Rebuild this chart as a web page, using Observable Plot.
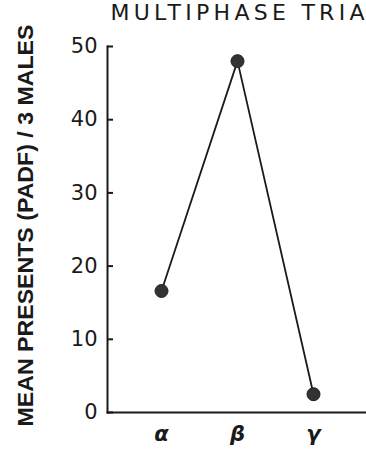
<!DOCTYPE html>
<html>
<head>
<meta charset="utf-8">
<script src="https://cdn.jsdelivr.net/npm/d3@7"></script>
<script src="https://cdn.jsdelivr.net/npm/@observablehq/plot@0.6"></script>
<style>
  html, body { margin: 0; padding: 0; background: #fff; overflow: hidden; }
  svg { display: block; }
</style>
</head>
<body>
<div id="chart"></div>
<script>
const phases = ["α", "β", "γ"];
const presents = [16.6, 48.0, 2.5];
const yTicks = [0, 10, 20, 30, 40, 50];
const titleText = "MULTIPHASE TRIA";
const yLabel = "MEAN PRESENTS (PADF) / 3 MALES";

const data = phases.map((p, i) => ({phase: p, value: presents[i]}));
const ink = "#1a1a1a";

const chart = Plot.plot({
  width: 366,
  height: 452,
  marginLeft: 107,
  marginRight: 0,
  marginTop: 46,
  marginBottom: 40,
  style: {background: "#fff", color: ink, fontFamily: "'DejaVu Sans', sans-serif", overflow: "visible"},
  x: {type: "point", domain: phases, padding: 0.7},
  y: {domain: [0, 50]},
  marks: [
    Plot.frame({anchor: "left", stroke: ink, strokeWidth: 2}),
    Plot.frame({anchor: "bottom", stroke: ink, strokeWidth: 2}),
    Plot.axisY({ticks: yTicks, tickSize: 6, dx: 6, tickFormat: () => "", strokeWidth: 2, label: null, stroke: ink}),
    Plot.axisY({ticks: yTicks, tickSize: 0, tickPadding: 10, fontSize: 21, label: null}),
    Plot.axisX({tickSize: 0, tickPadding: 14, fontSize: 21, fontStyle: "italic", fontWeight: "bold", label: null}),
    Plot.line(data, {x: "phase", y: "value", stroke: ink, strokeWidth: 1.8}),
    Plot.dot(data, {x: "phase", y: "value", r: 6.5, fill: "#333", stroke: "#222", strokeWidth: 1}),
    Plot.text([titleText], {frameAnchor: "top-left", dx: 3, dy: -27, text: d => d, fontSize: 22, textAnchor: "start", lineAnchor: "bottom", fill: ink, fontFamily: "'DejaVu Sans', sans-serif", className: "title-text"}),
    Plot.text([yLabel], {frameAnchor: "left", dx: -82, dy: -4, rotate: -90, text: d => d, fontSize: 22, fontWeight: "bold", textAnchor: "middle", fill: ink, fontFamily: "'Liberation Sans', sans-serif", className: "ylab-text"})
  ]
});

document.getElementById("chart").appendChild(chart);

d3.select(chart).selectAll(".title-text text").attr("textLength", 254).attr("lengthAdjust", "spacing");
d3.select(chart).selectAll(".ylab-text text").attr("textLength", 402).attr("lengthAdjust", "spacingAndGlyphs");
</script>
</body>
</html>
